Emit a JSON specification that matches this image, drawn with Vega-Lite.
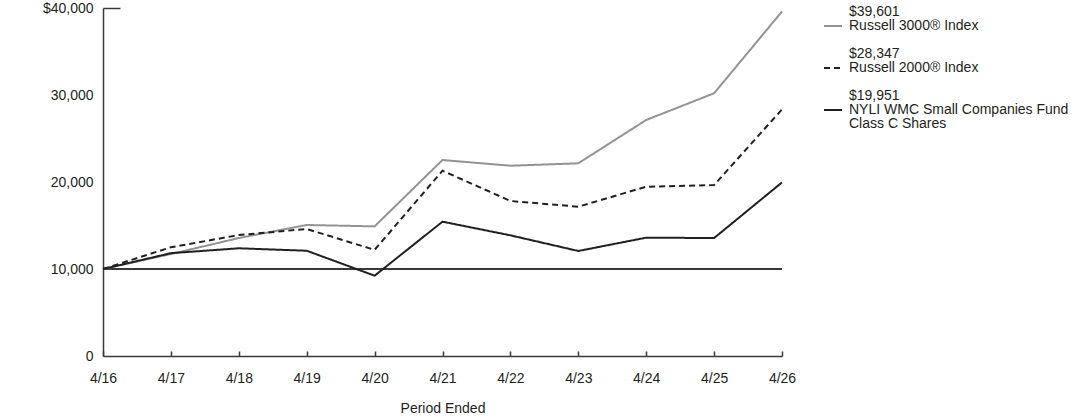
{
  "$schema": "https://vega.github.io/schema/vega-lite/v6.json",
  "width": 679,
  "height": 348,
  "padding": {"left": 42, "top": 1, "right": 5, "bottom": 5},
  "background": "white",
  "config": {
    "view": {"stroke": null},
    "font": "Liberation Sans",
    "style": {"guide-label": {"dy": -14, "lineHeight": 14}},
    "axis": {"labelFont": "Liberation Sans", "titleFont": "Liberation Sans", "labelFontSize": 14, "titleFontSize": 14, "labelColor": "#231f20", "titleColor": "#231f20", "titleFontWeight": "normal", "grid": false, "domainColor": "#3a3a3a", "tickColor": "#3a3a3a", "domainWidth": 1.5, "tickWidth": 1.5},
    "legend": {"labelFont": "Liberation Sans", "labelFontSize": 14, "labelColor": "#231f20"}
  },
  "data": {
    "values": [
      {"period": "4/16", "series": "Russell 3000® Index", "value": 10000},
      {"period": "4/17", "series": "Russell 3000® Index", "value": 11720},
      {"period": "4/18", "series": "Russell 3000® Index", "value": 13560},
      {"period": "4/19", "series": "Russell 3000® Index", "value": 15060},
      {"period": "4/20", "series": "Russell 3000® Index", "value": 14900},
      {"period": "4/21", "series": "Russell 3000® Index", "value": 22530},
      {"period": "4/22", "series": "Russell 3000® Index", "value": 21870},
      {"period": "4/23", "series": "Russell 3000® Index", "value": 22150},
      {"period": "4/24", "series": "Russell 3000® Index", "value": 27130},
      {"period": "4/25", "series": "Russell 3000® Index", "value": 30200},
      {"period": "4/26", "series": "Russell 3000® Index", "value": 39601},
      {"period": "4/16", "series": "Russell 2000® Index", "value": 10000},
      {"period": "4/17", "series": "Russell 2000® Index", "value": 12500},
      {"period": "4/18", "series": "Russell 2000® Index", "value": 13900},
      {"period": "4/19", "series": "Russell 2000® Index", "value": 14600},
      {"period": "4/20", "series": "Russell 2000® Index", "value": 12200},
      {"period": "4/21", "series": "Russell 2000® Index", "value": 21300},
      {"period": "4/22", "series": "Russell 2000® Index", "value": 17820},
      {"period": "4/23", "series": "Russell 2000® Index", "value": 17160},
      {"period": "4/24", "series": "Russell 2000® Index", "value": 19460},
      {"period": "4/25", "series": "Russell 2000® Index", "value": 19650},
      {"period": "4/26", "series": "Russell 2000® Index", "value": 28347},
      {"period": "4/16", "series": "NYLI WMC Small Companies Fund Class C Shares", "value": 10000},
      {"period": "4/17", "series": "NYLI WMC Small Companies Fund Class C Shares", "value": 11820},
      {"period": "4/18", "series": "NYLI WMC Small Companies Fund Class C Shares", "value": 12380},
      {"period": "4/19", "series": "NYLI WMC Small Companies Fund Class C Shares", "value": 12100},
      {"period": "4/20", "series": "NYLI WMC Small Companies Fund Class C Shares", "value": 9230},
      {"period": "4/21", "series": "NYLI WMC Small Companies Fund Class C Shares", "value": 15440},
      {"period": "4/22", "series": "NYLI WMC Small Companies Fund Class C Shares", "value": 13870},
      {"period": "4/23", "series": "NYLI WMC Small Companies Fund Class C Shares", "value": 12070},
      {"period": "4/24", "series": "NYLI WMC Small Companies Fund Class C Shares", "value": 13600},
      {"period": "4/25", "series": "NYLI WMC Small Companies Fund Class C Shares", "value": 13560},
      {"period": "4/26", "series": "NYLI WMC Small Companies Fund Class C Shares", "value": 19951}
    ]
  },
  "layer": [
    {
      "mark": {"type": "rule", "color": "#3a3a3a", "strokeWidth": 1.5},
      "encoding": {"y": {"datum": 10000, "type": "quantitative"}}
    },
    {
      "mark": {"type": "line", "strokeWidth": 2},
      "encoding": {
        "x": {
          "field": "period", "type": "ordinal", "sort": null,
          "scale": {"type": "point", "padding": 0},
          "axis": {"title": "Period Ended", "labelAngle": 0, "tickSize": -5, "labelPadding": 34, "titlePadding": 16}
        },
        "y": {
          "field": "value", "type": "quantitative",
          "scale": {"domain": [0, 40000], "nice": false},
          "axis": {"title": null, "values": [0, 10000, 20000, 30000, 40000], "labelPadding": 27, "labelOffset": 14, "tickSize": -17, "tickOpacity": {"condition": {"test": "datum.value == 40000", "value": 1}, "value": 0}, "labelExpr": "datum.value == 40000 ? '$40,000' : format(datum.value, ',')"}
        },
        "color": {
          "field": "series", "type": "nominal",
          "scale": {"domain": ["Russell 3000® Index", "Russell 2000® Index", "NYLI WMC Small Companies Fund Class C Shares"], "range": ["#939393", "#231f20", "#231f20"]},
          "legend": {
            "title": null, "orient": "right", "offset": 29, "padding": 8, "rowPadding": 0,
            "symbolType": "stroke", "symbolSize": 324, "symbolStrokeWidth": 2, "labelOffset": 6, "labelLimit": 400, "labelBaseline": "middle",
            "labelExpr": "datum.label == 'Russell 3000® Index' ? ['$39,601', 'Russell 3000® Index', ''] : datum.label == 'Russell 2000® Index' ? ['$28,347', 'Russell 2000® Index', ''] : ['$19,951', 'NYLI WMC Small Companies Fund', 'Class C Shares']"
          }
        },
        "strokeDash": {
          "field": "series", "type": "nominal",
          "scale": {"domain": ["Russell 3000® Index", "Russell 2000® Index", "NYLI WMC Small Companies Fund Class C Shares"], "range": [[1, 0], [6, 4], [1, 0]]},
          "legend": {
            "title": null, "orient": "right", "offset": 29, "padding": 8, "rowPadding": 0,
            "symbolType": "stroke", "symbolSize": 324, "symbolStrokeWidth": 2, "labelOffset": 6, "labelLimit": 400, "labelBaseline": "middle",
            "labelExpr": "datum.label == 'Russell 3000® Index' ? ['$39,601', 'Russell 3000® Index', ''] : datum.label == 'Russell 2000® Index' ? ['$28,347', 'Russell 2000® Index', ''] : ['$19,951', 'NYLI WMC Small Companies Fund', 'Class C Shares']"
          }
        }
      }
    }
  ]
}
